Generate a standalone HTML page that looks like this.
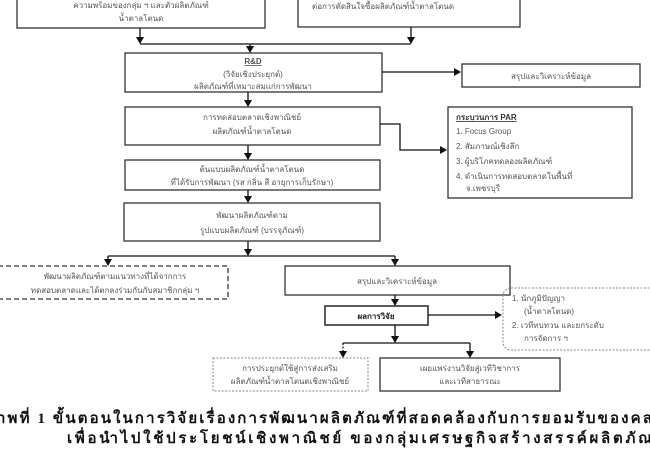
<!DOCTYPE html>
<html><head><meta charset="utf-8"><style>
html,body{margin:0;padding:0;background:#fff;width:650px;height:450px;overflow:hidden}
svg text{font-family:"Liberation Sans","Noto Sans CJK SC",sans-serif;fill:#555;font-size:8px}
.cap{font-family:"Liberation Serif","Noto Serif CJK SC",serif;font-weight:bold;fill:#111;font-size:15px}
</style></head><body>
<svg width="650" height="450" viewBox="0 0 650 450" xmlns="http://www.w3.org/2000/svg">
<defs><marker id="a" markerWidth="8" markerHeight="8" refX="6" refY="4" orient="auto" markerUnits="userSpaceOnUse"><path d="M0,0 L7,4 L0,8 z" fill="#111"/></marker></defs>
<g fill="none" stroke="#333" stroke-width="1.3">
<rect x="17" y="-2" width="248" height="30"/>
<rect x="298" y="-2" width="222" height="29"/>
<rect x="125" y="53" width="257" height="39"/>
<rect x="462" y="64" width="178" height="23"/>
<rect x="125" y="107" width="255" height="38"/>
<rect x="448" y="107" width="184" height="91"/>
<rect x="125" y="160" width="255" height="30"/>
<rect x="124" y="203" width="256" height="38"/>
<rect x="-2" y="266" width="230" height="33" stroke-dasharray="5,3"/>
<rect x="285" y="266" width="225" height="29"/>
<rect x="325" y="306" width="103" height="19" stroke-width="1.6"/>
<rect x="503" y="288" width="160" height="62" rx="8" stroke-dasharray="2,1.5" stroke="#888" stroke-width="1"/>
<rect x="213" y="358" width="155" height="33" stroke-dasharray="2,1.5" stroke="#888" stroke-width="1"/>
<rect x="380" y="358" width="180" height="33"/>
</g>
<g stroke="#111" stroke-width="1.3" fill="none" marker-end="url(#a)">
<line x1="140" y1="28" x2="140" y2="43"/>
<line x1="411" y1="27" x2="411" y2="43"/>
<line x1="250" y1="44" x2="250" y2="52"/>
<line x1="382" y1="72" x2="460" y2="72"/>
<line x1="248" y1="92" x2="248" y2="106"/>
<polyline points="380,124 400,124 400,150 446,150"/>
<line x1="248" y1="145" x2="248" y2="159"/>
<line x1="248" y1="190" x2="248" y2="202"/>
<line x1="248" y1="241" x2="248" y2="255"/>
<line x1="108" y1="256" x2="108" y2="265"/>
<line x1="395" y1="256" x2="395" y2="265"/>
<line x1="395" y1="295" x2="395" y2="305"/>
<line x1="428" y1="315" x2="501" y2="315"/>
<line x1="395" y1="325" x2="395" y2="342"/>
<line x1="470" y1="343" x2="470" y2="357"/>
<line x1="343" y1="343" x2="343" y2="357" stroke-dasharray="2,1.5"/>
</g>
<g stroke="#111" stroke-width="1.3">
<line x1="140" y1="44" x2="411" y2="44"/>
<line x1="108" y1="256" x2="395" y2="256"/>
<line x1="343" y1="343" x2="470" y2="343"/>
</g>
<g text-anchor="middle">
<text x="141" y="8">ความพร้อมของกลุ่ม ฯ และตัวผลิตภัณฑ์</text>
<text x="141" y="21">น้ำตาลโตนด</text>
<text x="253" y="64" text-decoration="underline" font-weight="bold">R&amp;D</text>
<text x="253" y="77">(วิจัยเชิงประยุกต์)</text>
<text x="253" y="89">ผลิตภัณฑ์ที่เหมาะสมแก่การพัฒนา</text>
<text x="551" y="79">สรุปและวิเคราะห์ข้อมูล</text>
<text x="252" y="120">การทดสอบตลาดเชิงพาณิชย์</text>
<text x="252" y="134">ผลิตภัณฑ์น้ำตาลโตนด</text>
<text x="252" y="172">ต้นแบบผลิตภัณฑ์น้ำตาลโตนด</text>
<text x="252" y="185">ที่ได้รับการพัฒนา (รส กลิ่น สี อายุการเก็บรักษา)</text>
<text x="252" y="218">พัฒนาผลิตภัณฑ์ตาม</text>
<text x="252" y="233">รูปแบบผลิตภัณฑ์ (บรรจุภัณฑ์)</text>
<text x="115" y="279">พัฒนาผลิตภัณฑ์ตามแนวทางที่ได้จากการ</text>
<text x="115" y="293">ทดสอบตลาดและได้ตกลงร่วมกันกับสมาชิกกลุ่ม ฯ</text>
<text x="397" y="284" font-size="9">สรุปและวิเคราะห์ข้อมูล</text>
<text x="376" y="319" font-size="9" font-weight="bold" style="fill:#222">ผลการวิจัย</text>
<text x="290" y="371">การประยุกต์ใช้สู่การส่งเสริม</text>
<text x="290" y="384">ผลิตภัณฑ์น้ำตาลโตนดเชิงพาณิชย์</text>
<text x="470" y="371">เผยแพร่งานวิจัยสู่เวทีวิชาการ</text>
<text x="470" y="384">และเวทีสาธารณะ</text>
</g>
<text x="312" y="9">ต่อการตัดสินใจซื้อผลิตภัณฑ์น้ำตาลโตนด</text>
<text x="456" y="120" font-weight="bold" text-decoration="underline" style="fill:#333">กระบวนการ PAR</text>
<text x="456" y="134">1.  Focus  Group</text>
<text x="456" y="149">2.  สัมภาษณ์เชิงลึก</text>
<text x="456" y="164">3.  ผู้บริโภคทดลองผลิตภัณฑ์</text>
<text x="456" y="179">4.  ดำเนินการทดสอบตลาดในพื้นที่</text>
<text x="466" y="191">จ.เพชรบุรี</text>
<text x="512" y="301">1.  นักภูมิปัญญา</text>
<text x="524" y="314">(น้ำตาลโตนด)</text>
<text x="512" y="328">2.  เวทีทบทวน และยกระดับ</text>
<text x="524" y="341">การจัดการ ฯ</text>
<text class="cap" x="-3" y="423" textLength="655" lengthAdjust="spacing">าพที่ 1  ขั้นตอนในการวิจัยเรื่องการพัฒนาผลิตภัณฑ์ที่สอดคล้องกับการยอมรับของคล</text>
<text class="cap" x="67" y="443" textLength="585" lengthAdjust="spacing">เพื่อนำไปใช้ประโยชน์เชิงพาณิชย์ ของกลุ่มเศรษฐกิจสร้างสรรค์ผลิตภัณ</text>
</svg>
</body></html>
